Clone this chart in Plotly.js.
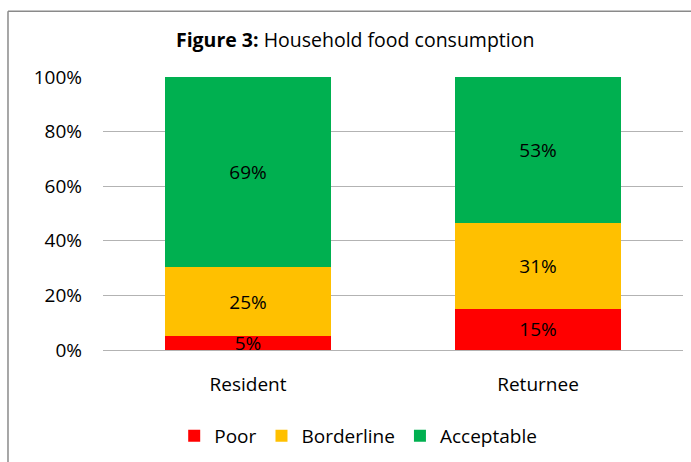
<!DOCTYPE html>
<html>
<head>
<meta charset="utf-8">
<script src="https://cdn.plot.ly/plotly-3.0.1.min.js"></script>
<style>
html,body{margin:0;padding:0;background:#fff;}
#chart{width:691px;height:462px;}
</style>
</head>
<body>
<div id="chart"></div>
<script>
const categories = ["Resident", "Returnee"];
const poor = [5, 15];
const borderline = [25, 31];
const acceptable = [69, 53];
const seriesNames = ["Poor", "Borderline", "Acceptable"];
const seriesColors = ["#FF0000", "#FFC000", "#00B050"];
const yTickVals = [0, 20, 40, 60, 80, 100];
const yTickText = ["0%", "20%", "40%", "60%", "80%", "100%"];

const FONT = "'Open Sans', Lato, sans-serif";
const series = [poor, borderline, acceptable];

const traces = series.map((vals, i) => ({
  type: "bar",
  name: seriesNames[i],
  x: categories,
  y: vals,
  marker: {color: seriesColors[i]},
  text: vals.map(v => v + "%"),
  textposition: "inside",
  insidetextanchor: "middle",
  constraintext: "none",
  textfont: {family: FONT, size: 19, color: "#000"},
  hoverinfo: "none"
}));

const layout = {
  width: 691,
  height: 462,
  barmode: "stack",
  barnorm: "percent",
  bargap: 0.43,
  paper_bgcolor: "#fff",
  plot_bgcolor: "#fff",
  margin: {l: 103, r: 8, t: 77, b: 111},
  title: {
    text: "<b>Figure 3:</b> Household food consumption",
    font: {family: FONT, size: 19.5, color: "#000"},
    x: 0.514, xanchor: "center",
    y: 0.912, yanchor: "middle"
  },
  xaxis: {
    tickfont: {family: FONT, size: 19, color: "#000"},
    showline: false,
    ticks: "",
    showgrid: false,
    ticklabelstandoff: 21
  },
  yaxis: {
    range: [0, 100],
    tickvals: yTickVals,
    ticktext: yTickText,
    tickfont: {family: FONT, size: 19, color: "#000"},
    showgrid: true,
    gridcolor: "#b3b3b3",
    gridwidth: 1,
    zeroline: true,
    zerolinecolor: "#b3b3b3",
    showline: false,
    ticks: "",
    ticklabelstandoff: 20
  },
  legend: {
    orientation: "h",
    x: 0.44, xanchor: "center",
    y: -0.31, yanchor: "middle",
    font: {family: FONT, size: 19, color: "#000"},
    traceorder: "normal",
    itemwidth: 30
  },
  shapes: [
    {type: "line", xref: "paper", yref: "paper", x0: -0.1638, x1: 1.2, y0: 1.2409, y1: 1.2409, line: {color: "#8a8a8a", width: 1.5}},
    {type: "line", xref: "paper", yref: "paper", x0: -0.1638, x1: -0.1638, y0: 1.2409, y1: -0.5, line: {color: "#8a8a8a", width: 1.5}}
  ]
};

Plotly.newPlot("chart", traces, layout, {displayModeBar: false, staticPlot: true});
</script>
</body>
</html>
